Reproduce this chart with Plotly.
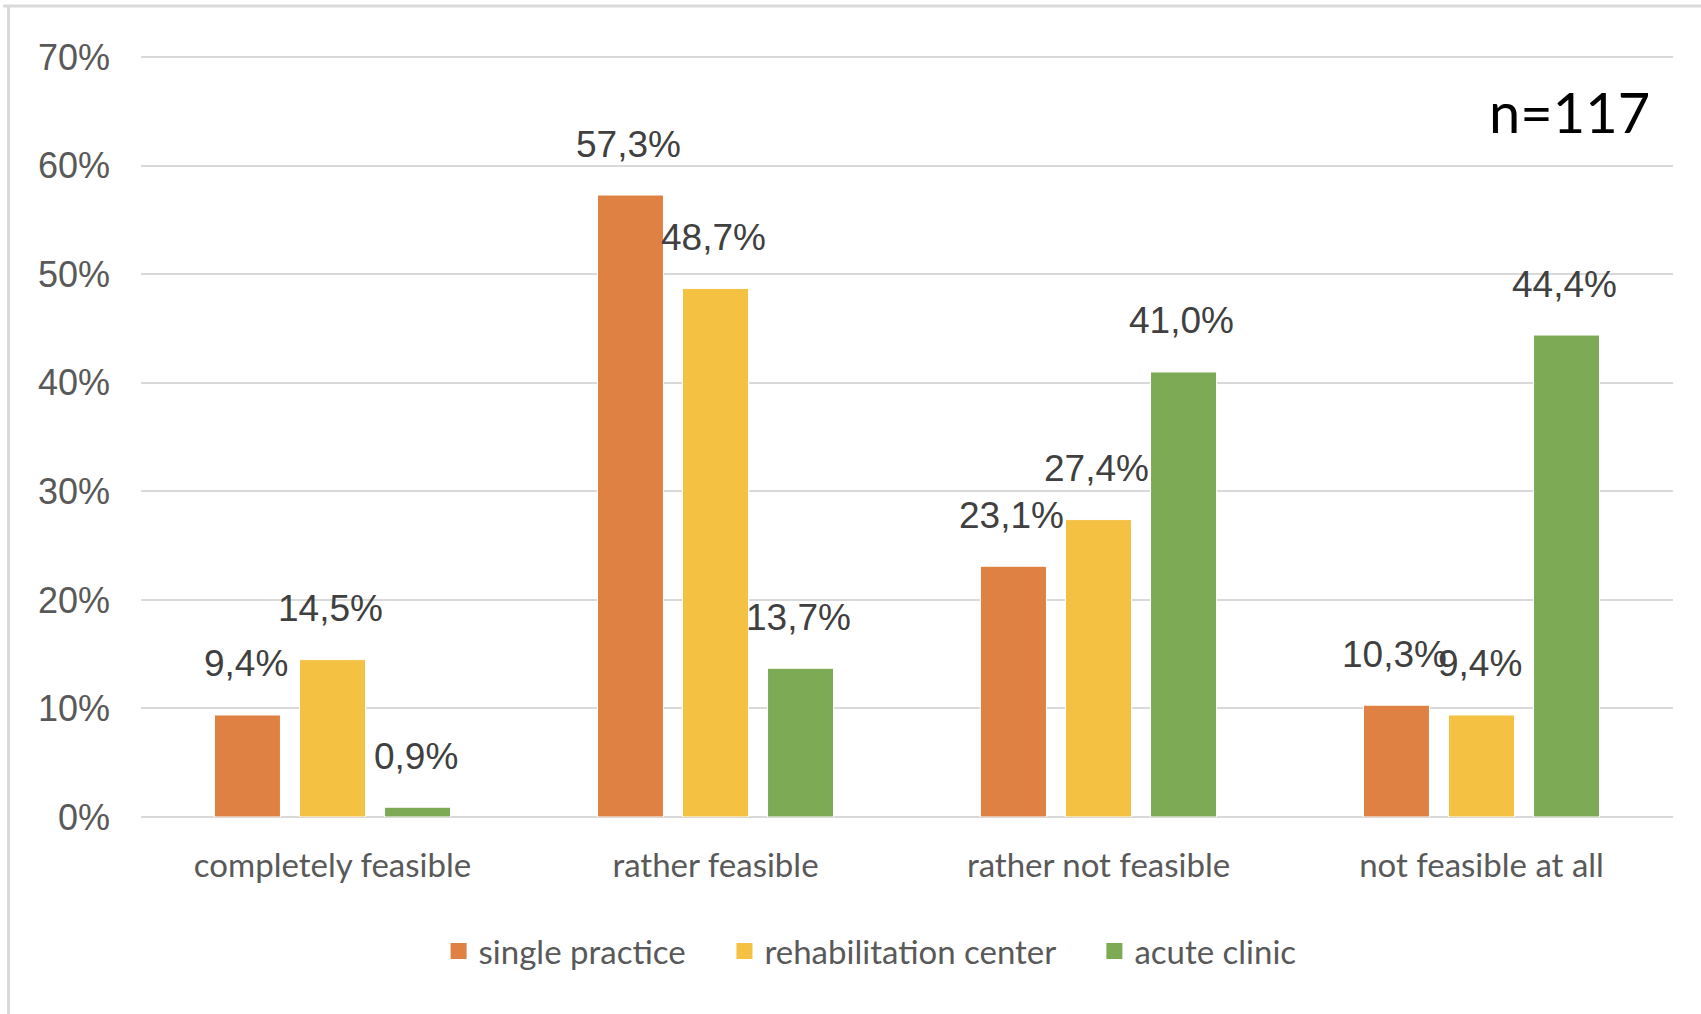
import plotly.graph_objects as go

categories = ["completely feasible", "rather feasible", "rather not feasible", "not feasible at all"]
series_names = ["single practice", "rehabilitation center", "acute clinic"]
single_practice = [9.4, 57.3, 23.1, 10.3]
rehabilitation_center = [14.5, 48.7, 27.4, 9.4]
acute_clinic = [0.9, 13.7, 41.0, 44.4]
colors = ["#E08144", "#F4C143", "#7DAA55"]
y_ticks = [0, 10, 20, 30, 40, 50, 60, 70]
n_label = "n=117"

series = [single_practice, rehabilitation_center, acute_clinic]

W, H = 1701, 1014
ML, MR, MT, MB = 141, 28, 55, 197
PW, PH = W - ML - MR, H - MT - MB

fig = go.Figure()
for name, vals, col in zip(series_names, series, colors):
    fig.add_trace(go.Bar(
        x=categories, y=[v / 100 for v in vals], name=name, showlegend=False,
        marker=dict(color=col, line=dict(color="white", width=1)),
    ))
# legend entries with larger square swatches
for name, col in zip(series_names, colors):
    fig.add_trace(go.Scatter(
        x=[None], y=[None], mode="markers", name=name + "\u00a0" * 4,
        marker=dict(symbol="square", size=16, color=col), showlegend=True,
    ))

def fmt(v):
    return f"{v:.1f}%".replace(".", ",")

shifts = [-85, 0, 85]
annotations = []
for vals, dx in zip(series, shifts):
    for cat, v in zip(categories, vals):
        annotations.append(dict(
            x=cat, y=v / 100, xref="x", yref="y", text=fmt(v), showarrow=False,
            xshift=dx - 2, yshift=51, yanchor="middle", xanchor="center",
            font=dict(family="Liberation Sans, Arial, sans-serif", size=37, color="#404040"),
        ))
annotations.append(dict(
    x=(1652 - ML) / PW, y=(H - MB - 111) / PH, xref="paper", yref="paper", text=n_label, showarrow=False,
    xanchor="right", yanchor="middle",
    font=dict(family="Lato, sans-serif", size=56, color="#000000"),
))

top_line_y = (H - MB - 6) / PH
left_line_x = (8.5 - ML) / PW

fig.update_layout(
    width=W, height=H,
    margin=dict(l=ML, r=MR, t=MT, b=MB),
    paper_bgcolor="white", plot_bgcolor="white",
    barmode="group", bargap=0.334, bargroupgap=0.224,
    showlegend=True,
    legend=dict(orientation="h", x=0.487, xanchor="center", y=-134 / PH, yanchor="middle",
                font=dict(family="Lato, sans-serif", size=33, color="#595959"),
                itemwidth=30, itemsizing="trace", traceorder="normal"),
    annotations=annotations,
    shapes=[
        dict(type="line", xref="paper", yref="paper", x0=-0.09, x1=1.05, y0=top_line_y, y1=top_line_y,
             line=dict(color="#D9D9D9", width=3)),
        dict(type="line", xref="paper", yref="paper", x0=left_line_x, x1=left_line_x,
             y0=top_line_y, y1=-MB / PH, line=dict(color="#D9D9D9", width=3)),
    ],
)
fig.update_xaxes(
    tickfont=dict(family="Lato, sans-serif", size=33, color="#595959"),
    showgrid=False, showline=False, ticks="", ticklabelstandoff=26,
)
fig.update_yaxes(
    range=[0, 0.702], tickvals=[t / 100 for t in y_ticks], ticktext=[f"{t}%" for t in y_ticks],
    tickfont=dict(family="Liberation Sans, Arial, sans-serif", size=36, color="#595959"),
    showgrid=True, gridcolor="#D9D9D9", gridwidth=2,
    zeroline=True, zerolinecolor="#D9D9D9", zerolinewidth=2,
    showline=False, ticks="", ticklabelstandoff=30,
)

fig.write_html("out.html")
